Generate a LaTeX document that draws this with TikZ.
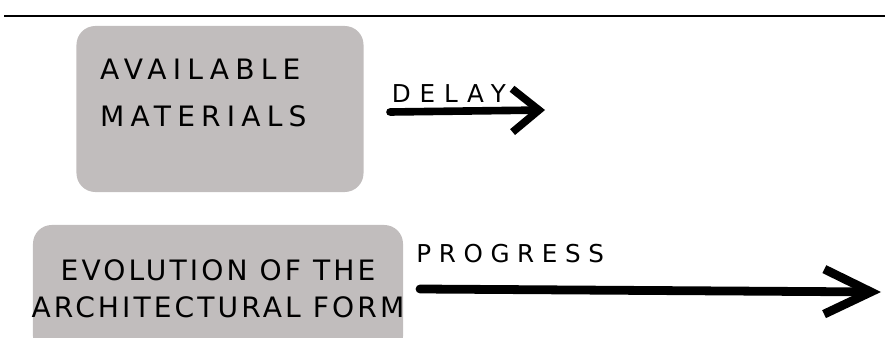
\documentclass[tikz,border=0pt]{standalone}
\usepackage{fontspec}
\setmainfont{DejaVu Sans}
\usetikzlibrary{positioning, arrows.meta}
\definecolor{boxgray}{RGB}{193,189,189}

\begin{document}
\begin{tikzpicture}[x=0.03cm, y=-0.03cm,
    box/.style={fill=boxgray, rounded corners=16pt, inner sep=0pt},
    word/.style={font=\fontsize{24}{40}\selectfont\addfontfeatures{LetterSpace=22}, inner sep=0pt},
    tag/.style={font=\fontsize{21}{24}\selectfont\addfontfeatures{LetterSpace=31}, inner sep=0pt},
    push/.style={line width=6.5pt, line cap=round, line join=round,
      -{Straight Barb[length=0.8cm, width=1.3cm]}}]
      \useasboundingbox (0,0) rectangle (885,338);

      % rule across the top
      \draw[line width=1.6pt] (4,16) -- (885,16);

      % Row 1: materials
      \node[box, minimum width=8.61cm, minimum height=4.98cm] (mat) at (220,109) {};
      \node[word, align=left, anchor=west] (matText) at (100,93) {AVAILABLE\\MATERIALS};

      % Row 2: form
      \node[box, minimum width=11.1cm, minimum height=3.9cm] (form) at (218,290) {};
      \node[word, align=center, font=\fontsize{24}{32}\selectfont\addfontfeatures{LetterSpace=11}] (formText) at (218,289) {EVOLUTION OF THE\\ARCHITECTURAL FORM};

      % arrow ends
      \coordinate (delayA) at (390,112);
      \coordinate (delayB) at (545,110);
      \coordinate (progA) at (420,289);
      \coordinate (progB) at (881,292);

      % arrows
      \draw[push] (delayA) -- node[tag, at start, anchor=base west, yshift=0.27cm, xshift=-0.06cm, font=\fontsize{21}{24}\selectfont\addfontfeatures{LetterSpace=36}] (delay) {DELAY} (delayB);
      \draw[push, line width=7.5pt, -{Straight Barb[length=1.4cm, width=1.35cm]}] (progA) -- node[tag, at start, anchor=base west, yshift=0.78cm, xshift=-0.24cm] (prog) {PROGRESS} (progB);
    \end{tikzpicture}
\end{document}
